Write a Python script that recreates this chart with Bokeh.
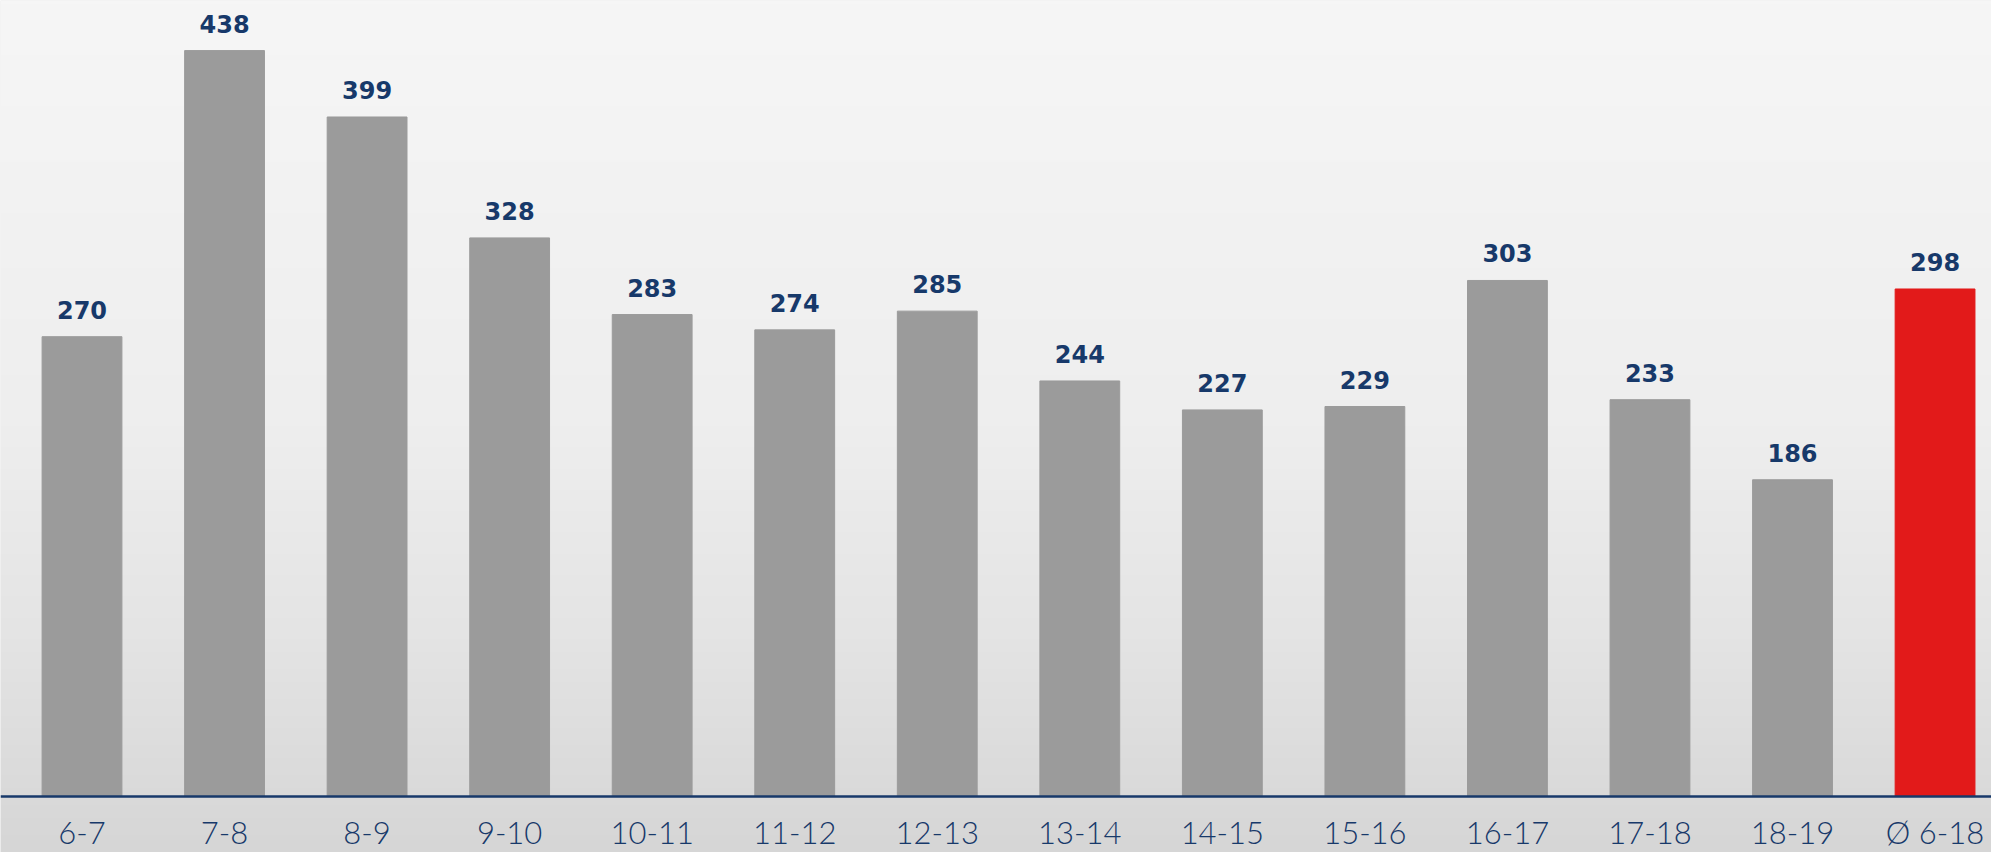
import numpy as np
from bokeh.plotting import figure
from bokeh.models import ColumnDataSource, FixedTicker
from bokeh.core.properties import value
from bokeh.embed import file_html
from bokeh.resources import INLINE

categories = ["6-7", "7-8", "8-9", "9-10", "10-11", "11-12", "12-13", "13-14",
              "14-15", "15-16", "16-17", "17-18", "18-19", "Ø 6-18"]
values = [270, 438, 399, 328, 283, 274, 285, 244, 227, 229, 303, 233, 186, 298]
colors = ["#9b9b9b"] * 13 + ["#e21a1a"]

xs = list(range(len(categories)))
src = ColumnDataSource(dict(x=xs, top=values, color=colors,
                            label=[str(v) for v in values]))

NAVY = "#17396a"
X0, X1 = -0.5718, 13.396
Y0, Y1 = -32.88, 467.4

p = figure(width=1991, height=852, output_backend="svg", toolbar_location=None,
           x_range=(X0, X1), y_range=(Y0, Y1),
           min_border_left=0, min_border_right=0, min_border_top=0,
           min_border_bottom=0)
p.background_fill_color = "#e8e8e8"
p.border_fill_color = "#e8e8e8"
p.outline_line_color = None
p.grid.visible = False
p.yaxis.visible = False

# background: soft vertical light-grey gradient (decoration only)
H = 200
t = np.linspace(0, 1, H)[:, None]  # 0 = bottom, 1 = top
stops_t = [0.0, 0.25, 0.5, 1.0]
stops_v = [214, 228, 238, 246]
g = np.interp(t.ravel(), stops_t, stops_v).astype(np.uint32)[:, None]
img = (255 << 24) | (g << 16) | (g << 8) | g
p.image_rgba(image=[img], x=X0, y=Y0, dw=X1 - X0, dh=Y1 - Y0)

p.vbar(x="x", top="top", width=0.56, bottom=0, color="color", source=src)

p.text(x="x", y="top", text="label", source=src, text_align="center",
       text_baseline="alphabetic", y_offset=-27, text_color=NAVY,
       text_font=value("DejaVu Sans"), text_font_style="bold",
       text_font_size="24px")

ax = p.xaxis[0]
ax.fixed_location = 0
ax.ticker = FixedTicker(ticks=xs)
ax.major_label_overrides = {i: c for i, c in enumerate(categories)}
ax.axis_line_color = NAVY
ax.axis_line_width = 2.5
ax.major_tick_line_color = None
ax.minor_tick_line_color = None
ax.major_label_text_font = "Lato Light"
ax.major_label_text_font_size = "31px"
ax.major_label_text_color = NAVY
ax.major_label_standoff = 10

open("out.html", "w").write(file_html(p, INLINE))
